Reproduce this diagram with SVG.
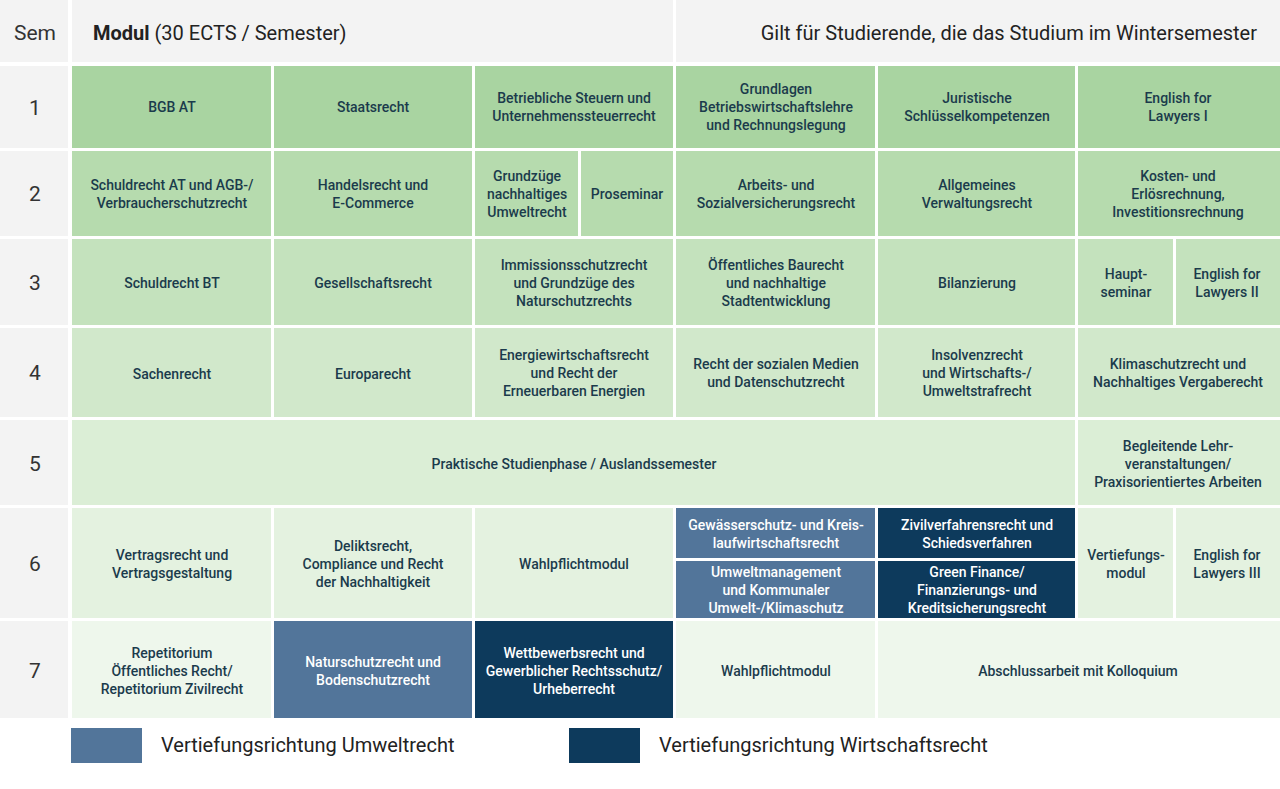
<svg xmlns="http://www.w3.org/2000/svg" width="1280" height="789" viewBox="0 0 1280 789">
<style>
text{font-family:Roboto,"Liberation Sans",sans-serif;text-anchor:middle}
.t{font-size:14px;font-weight:500;fill:#1b3b4c}
.w{font-size:14px;font-weight:500;fill:#ffffff}
.s{font-size:21px;fill:#333}
.h{font-size:20px;fill:#222}
.r1{fill:#a9d4a1}.r2{fill:#b6dbae}.r3{fill:#c4e2bd}.r4{fill:#d1e8cb}.r5{fill:#dbeed6}.r6{fill:#e4f2e0}.r7{fill:#eef7ec}
.g{fill:#f3f3f3}.bl{fill:#52759a}.nv{fill:#0d3a5c}
</style>
<rect width="1280" height="789" fill="#fff"/>
<g id="header">
<rect class="g" x="0" y="0" width="68" height="62"/>
<rect class="g" x="72" y="0" width="601" height="62"/>
<rect class="g" x="676" y="0" width="604" height="62"/>
<text class="s" x="35" y="40">Sem</text>
<text class="h" x="93" y="40" style="text-anchor:start"><tspan font-weight="700">Modul</tspan> (30 ECTS / Semester)</text>
<text class="h" x="1257" y="40" style="text-anchor:end">Gilt für Studierende, die das Studium im Wintersemester</text>
</g>
<g id="semesters">
<rect class="g" x="0" y="66" width="68" height="82"/><text class="s" x="35" y="115">1</text>
<rect class="g" x="0" y="151" width="68" height="85"/><text class="s" x="35" y="201">2</text>
<rect class="g" x="0" y="239" width="68" height="86"/><text class="s" x="35" y="290">3</text>
<rect class="g" x="0" y="328" width="68" height="89"/><text class="s" x="35" y="380">4</text>
<rect class="g" x="0" y="420" width="68" height="85"/><text class="s" x="35" y="471">5</text>
<rect class="g" x="0" y="508" width="68" height="110"/><text class="s" x="35" y="571">6</text>
<rect class="g" x="0" y="621" width="68" height="97"/><text class="s" x="35" y="678">7</text>
</g>
<g id="row1">
<rect class="r1" x="72" y="66" width="199" height="82"/><text class="t" x="172" y="112">BGB AT</text>
<rect class="r1" x="274" y="66" width="198" height="82"/><text class="t" x="373" y="112">Staatsrecht</text>
<rect class="r1" x="475" y="66" width="198" height="82"/><text class="t" x="574" y="103">Betriebliche Steuern und</text><text class="t" x="574" y="121">Unternehmenssteuerrecht</text>
<rect class="r1" x="676" y="66" width="199" height="82"/><text class="t" x="776" y="94">Grundlagen</text><text class="t" x="776" y="112">Betriebswirtschaftslehre</text><text class="t" x="776" y="130">und Rechnungslegung</text>
<rect class="r1" x="878" y="66" width="197" height="82"/><text class="t" x="977" y="103">Juristische</text><text class="t" x="977" y="121">Schlüsselkompetenzen</text>
<rect class="r1" x="1078" y="66" width="202" height="82"/><text class="t" x="1178" y="103">English for</text><text class="t" x="1178" y="121">Lawyers I</text>
</g>
<g id="row2">
<rect class="r2" x="72" y="151" width="199" height="85"/><text class="t" x="172" y="190">Schuldrecht AT und AGB-/</text><text class="t" x="172" y="208">Verbraucherschutzrecht</text>
<rect class="r2" x="274" y="151" width="198" height="85"/><text class="t" x="373" y="190">Handelsrecht und</text><text class="t" x="373" y="208">E-Commerce</text>
<rect class="r2" x="475" y="151" width="103" height="85"/><text class="t" x="527" y="181">Grundzüge</text><text class="t" x="527" y="199">nachhaltiges</text><text class="t" x="527" y="217">Umweltrecht</text>
<rect class="r2" x="581" y="151" width="92" height="85"/><text class="t" x="627" y="199">Proseminar</text>
<rect class="r2" x="676" y="151" width="199" height="85"/><text class="t" x="776" y="190">Arbeits- und</text><text class="t" x="776" y="208">Sozialversicherungsrecht</text>
<rect class="r2" x="878" y="151" width="197" height="85"/><text class="t" x="977" y="190">Allgemeines</text><text class="t" x="977" y="208">Verwaltungsrecht</text>
<rect class="r2" x="1078" y="151" width="202" height="85"/><text class="t" x="1178" y="181">Kosten- und</text><text class="t" x="1178" y="199">Erlösrechnung,</text><text class="t" x="1178" y="217">Investitionsrechnung</text>
</g>
<g id="row3">
<rect class="r3" x="72" y="239" width="199" height="86"/><text class="t" x="172" y="288">Schuldrecht BT</text>
<rect class="r3" x="274" y="239" width="198" height="86"/><text class="t" x="373" y="288">Gesellschaftsrecht</text>
<rect class="r3" x="475" y="239" width="198" height="86"/><text class="t" x="574" y="270">Immissionsschutzrecht</text><text class="t" x="574" y="288">und Grundzüge des</text><text class="t" x="574" y="306">Naturschutzrechts</text>
<rect class="r3" x="676" y="239" width="199" height="86"/><text class="t" x="776" y="270">Öffentliches Baurecht</text><text class="t" x="776" y="288">und nachhaltige</text><text class="t" x="776" y="306">Stadtentwicklung</text>
<rect class="r3" x="878" y="239" width="197" height="86"/><text class="t" x="977" y="288">Bilanzierung</text>
<rect class="r3" x="1078" y="239" width="95" height="86"/><text class="t" x="1126" y="279">Haupt-</text><text class="t" x="1126" y="297">seminar</text>
<rect class="r3" x="1176" y="239" width="104" height="86"/><text class="t" x="1227" y="279">English for</text><text class="t" x="1227" y="297">Lawyers II</text>
</g>
<g id="row4">
<rect class="r4" x="72" y="328" width="199" height="89"/><text class="t" x="172" y="379">Sachenrecht</text>
<rect class="r4" x="274" y="328" width="198" height="89"/><text class="t" x="373" y="379">Europarecht</text>
<rect class="r4" x="475" y="328" width="198" height="89"/><text class="t" x="574" y="360">Energiewirtschaftsrecht</text><text class="t" x="574" y="378">und Recht der</text><text class="t" x="574" y="396">Erneuerbaren Energien</text>
<rect class="r4" x="676" y="328" width="199" height="89"/><text class="t" x="776" y="369">Recht der sozialen Medien</text><text class="t" x="776" y="387">und Datenschutzrecht</text>
<rect class="r4" x="878" y="328" width="197" height="89"/><text class="t" x="977" y="360">Insolvenzrecht</text><text class="t" x="977" y="378">und Wirtschafts-/</text><text class="t" x="977" y="396">Umweltstrafrecht</text>
<rect class="r4" x="1078" y="328" width="202" height="89"/><text class="t" x="1178" y="369">Klimaschutzrecht und</text><text class="t" x="1178" y="387">Nachhaltiges Vergaberecht</text>
</g>
<g id="row5">
<rect class="r5" x="72" y="420" width="1003" height="85"/><text class="t" x="574" y="469">Praktische Studienphase / Auslandssemester</text>
<rect class="r5" x="1078" y="420" width="202" height="85"/><text class="t" x="1178" y="451">Begleitende Lehr-</text><text class="t" x="1178" y="469">veranstaltungen/</text><text class="t" x="1178" y="487">Praxisorientiertes Arbeiten</text>
</g>
<g id="row6">
<rect class="r6" x="72" y="508" width="199" height="110"/><text class="t" x="172" y="560">Vertragsrecht und</text><text class="t" x="172" y="578">Vertragsgestaltung</text>
<rect class="r6" x="274" y="508" width="198" height="110"/><text class="t" x="373" y="551">Deliktsrecht,</text><text class="t" x="373" y="569">Compliance und Recht</text><text class="t" x="373" y="587">der Nachhaltigkeit</text>
<rect class="r6" x="475" y="508" width="198" height="110"/><text class="t" x="574" y="569">Wahlpflichtmodul</text>
<rect class="bl" x="676" y="508" width="199" height="50"/><text class="w" x="776" y="530">Gewässerschutz- und Kreis-</text><text class="w" x="776" y="548">laufwirtschaftsrecht</text>
<rect class="bl" x="676" y="561" width="199" height="57"/><text class="w" x="776" y="577">Umweltmanagement</text><text class="w" x="776" y="595">und Kommunaler</text><text class="w" x="776" y="613">Umwelt-/Klimaschutz</text>
<rect class="nv" x="878" y="508" width="197" height="50"/><text class="w" x="977" y="530">Zivilverfahrensrecht und</text><text class="w" x="977" y="548">Schiedsverfahren</text>
<rect class="nv" x="878" y="561" width="197" height="57"/><text class="w" x="977" y="577">Green Finance/</text><text class="w" x="977" y="595">Finanzierungs- und</text><text class="w" x="977" y="613">Kreditsicherungsrecht</text>
<rect class="r6" x="1078" y="508" width="95" height="110"/><text class="t" x="1126" y="560">Vertiefungs-</text><text class="t" x="1126" y="578">modul</text>
<rect class="r6" x="1176" y="508" width="104" height="110"/><text class="t" x="1227" y="560">English for</text><text class="t" x="1227" y="578">Lawyers III</text>
</g>
<g id="row7">
<rect class="r7" x="72" y="621" width="199" height="97"/><text class="t" x="172" y="658">Repetitorium</text><text class="t" x="172" y="676">Öffentliches Recht/</text><text class="t" x="172" y="694">Repetitorium Zivilrecht</text>
<rect class="bl" x="274" y="621" width="198" height="97"/><text class="w" x="373" y="667">Naturschutzrecht und</text><text class="w" x="373" y="685">Bodenschutzrecht</text>
<rect class="nv" x="475" y="621" width="198" height="97"/><text class="w" x="574" y="658">Wettbewerbsrecht und</text><text class="w" x="574" y="676">Gewerblicher Rechtsschutz/</text><text class="w" x="574" y="694">Urheberrecht</text>
<rect class="r7" x="676" y="621" width="199" height="97"/><text class="t" x="776" y="676">Wahlpflichtmodul</text>
<rect class="r7" x="878" y="621" width="402" height="97"/><text class="t" x="1078" y="676">Abschlussarbeit mit Kolloquium</text>
</g>
<g id="legend">
<rect class="bl" x="71" y="728" width="71" height="35"/>
<text class="h" x="161" y="752" style="text-anchor:start">Vertiefungsrichtung Umweltrecht</text>
<rect class="nv" x="569" y="728" width="71" height="35"/>
<text class="h" x="659" y="752" style="text-anchor:start">Vertiefungsrichtung Wirtschaftsrecht</text>
</g>
<g id="connectors"/>
</svg>
